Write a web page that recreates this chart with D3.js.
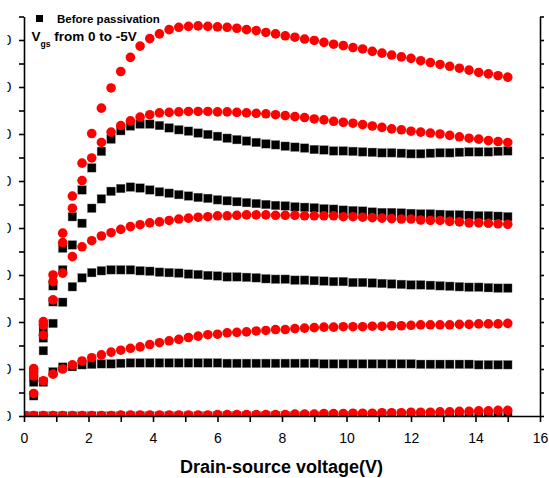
<!DOCTYPE html>
<html>
<head>
<meta charset="utf-8">
<script src="https://cdn.jsdelivr.net/npm/d3@7"></script>
<style>
  body { margin: 0; background: #fff; }
  svg { display: block; font-family: Arial, "Liberation Sans", sans-serif; }
</style>
</head>
<body>
<svg id="svg" width="549" height="478"></svg>
<script>
// drain-source voltage (V), sampled every 0.3 V
let vds = [0, 0.3, 0.6, 0.9, 1.2, 1.5, 1.8, 2.1, 2.4, 2.7,
	3.0, 3.3, 3.6, 3.9, 4.2, 4.5, 4.8, 5.1, 5.4, 5.7,
	6.0, 6.3, 6.6, 6.9, 7.2, 7.5, 7.8, 8.1, 8.4, 8.7,
	9.0, 9.3, 9.6, 9.9, 10.2, 10.5, 10.8, 11.1, 11.4, 11.7,
	12.0, 12.3, 12.6, 12.9, 13.2, 13.5, 13.8, 14.1, 14.4, 14.7,
	15.0];

// red circles
let red1 = [0, 1.01, 2.01, 3.00, 3.89, 4.68, 5.38, 6.01, 6.55, 6.98,
	7.33, 7.63, 7.87, 8.03, 8.13, 8.22, 8.27, 8.29, 8.30, 8.29,
	8.28, 8.27, 8.25, 8.22, 8.20, 8.16, 8.13, 8.09, 8.06, 8.02,
	7.99, 7.95, 7.91, 7.88, 7.84, 7.81, 7.76, 7.72, 7.68, 7.64,
	7.61, 7.56, 7.52, 7.48, 7.44, 7.40, 7.36, 7.31, 7.28, 7.24,
	7.21];
let red2 = [0, 0.94, 1.94, 2.86, 3.69, 4.42, 5.01, 5.49, 5.82, 6.04,
	6.18, 6.28, 6.36, 6.41, 6.45, 6.46, 6.47, 6.48, 6.48, 6.48,
	6.47, 6.47, 6.46, 6.45, 6.44, 6.43, 6.41, 6.39, 6.37, 6.35,
	6.32, 6.30, 6.27, 6.25, 6.23, 6.20, 6.17, 6.14, 6.11, 6.09,
	6.06, 6.04, 6.02, 6.00, 5.97, 5.94, 5.91, 5.89, 5.86, 5.84,
	5.82];
let red3 = [0, 0.85, 1.72, 2.47, 3.04, 3.39, 3.60, 3.73, 3.83, 3.90,
	3.97, 4.03, 4.07, 4.11, 4.13, 4.16, 4.19, 4.21, 4.23, 4.24,
	4.26, 4.26, 4.27, 4.28, 4.28, 4.28, 4.27, 4.27, 4.27, 4.26,
	4.26, 4.26, 4.26, 4.24, 4.24, 4.23, 4.22, 4.21, 4.20, 4.19,
	4.19, 4.17, 4.16, 4.16, 4.14, 4.13, 4.11, 4.11, 4.10, 4.09,
	4.08];
let red4 = [0, 0.48, 0.75, 0.89, 1.00, 1.09, 1.17, 1.24, 1.30, 1.36,
	1.40, 1.44, 1.47, 1.52, 1.56, 1.60, 1.63, 1.67, 1.70, 1.73,
	1.74, 1.77, 1.78, 1.79, 1.81, 1.82, 1.84, 1.84, 1.86, 1.87,
	1.88, 1.89, 1.89, 1.90, 1.90, 1.90, 1.91, 1.91, 1.92, 1.92,
	1.93, 1.94, 1.94, 1.94, 1.94, 1.95, 1.95, 1.96, 1.96, 1.96,
	1.97];
let red5 = [0, 0.01, 0.01, 0.01, 0.01, 0.01, 0.01, 0.01, 0.01, 0.01,
	0.02, 0.02, 0.02, 0.02, 0.02, 0.02, 0.02, 0.02, 0.02, 0.02,
	0.03, 0.03, 0.03, 0.03, 0.03, 0.03, 0.03, 0.03, 0.04, 0.04,
	0.04, 0.05, 0.05, 0.05, 0.06, 0.06, 0.06, 0.07, 0.07, 0.07,
	0.08, 0.08, 0.08, 0.09, 0.09, 0.10, 0.10, 0.11, 0.11, 0.12,
	0.12];

// black squares (before passivation)
let black1 = [0, 0.92, 1.83, 2.77, 3.57, 4.24, 4.81, 5.28, 5.63, 5.89,
	6.07, 6.17, 6.21, 6.21, 6.18, 6.13, 6.09, 6.06, 6.02, 5.99,
	5.95, 5.91, 5.88, 5.85, 5.82, 5.79, 5.77, 5.74, 5.72, 5.70,
	5.67, 5.66, 5.64, 5.64, 5.63, 5.62, 5.61, 5.60, 5.60, 5.59,
	5.58, 5.58, 5.59, 5.60, 5.60, 5.61, 5.62, 5.62, 5.62, 5.63,
	5.64];
let black2 = [0, 0.81, 1.66, 2.43, 3.11, 3.64, 4.10, 4.42, 4.62, 4.78,
	4.84, 4.87, 4.85, 4.81, 4.77, 4.74, 4.71, 4.68, 4.65, 4.63,
	4.60, 4.58, 4.56, 4.54, 4.52, 4.50, 4.48, 4.47, 4.45, 4.44,
	4.43, 4.41, 4.40, 4.38, 4.37, 4.36, 4.34, 4.33, 4.33, 4.32,
	4.31, 4.30, 4.30, 4.29, 4.28, 4.28, 4.27, 4.26, 4.26, 4.25,
	4.24];
let black3 = [0, 0.72, 1.39, 1.97, 2.42, 2.75, 2.94, 3.05, 3.09, 3.11,
	3.11, 3.11, 3.09, 3.08, 3.06, 3.05, 3.04, 3.02, 3.01, 2.99,
	2.98, 2.96, 2.96, 2.95, 2.94, 2.92, 2.91, 2.91, 2.89, 2.89,
	2.88, 2.87, 2.86, 2.86, 2.84, 2.84, 2.83, 2.82, 2.81, 2.80,
	2.79, 2.79, 2.78, 2.77, 2.76, 2.75, 2.74, 2.74, 2.73, 2.72,
	2.72];
let black4 = [0, 0.43, 0.72, 0.94, 1.04, 1.05, 1.09, 1.10, 1.11, 1.11,
	1.12, 1.13, 1.13, 1.13, 1.13, 1.13, 1.13, 1.13, 1.13, 1.13,
	1.13, 1.12, 1.12, 1.12, 1.12, 1.12, 1.12, 1.12, 1.12, 1.12,
	1.12, 1.11, 1.11, 1.11, 1.11, 1.11, 1.11, 1.11, 1.11, 1.11,
	1.11, 1.10, 1.10, 1.10, 1.10, 1.10, 1.10, 1.09, 1.09, 1.09,
	1.09];
let black5 = [0, 0, 0, 0, 0, 0, 0, 0, 0, 0,
	0, 0, 0, 0, 0, 0, 0, 0, 0, 0,
	0, 0, 0, 0, 0, 0, 0, 0, 0, 0,
	0, 0, 0, 0, 0, 0, 0, 0, 0, 0,
	0, 0, 0, 0, 0, 0, 0, 0, 0, 0,
	0];

let xTicks = [0, 1, 2, 3, 4, 5, 6, 7, 8, 9, 10, 11, 12, 13, 14, 15, 16];
let yTicks = [0, 0.5, 1, 1.5, 2, 2.5, 3, 3.5, 4, 4.5, 5, 5.5, 6, 6.5, 7, 7.5, 8, 8.5];

let blackSeries = [black1, black2, black3, black4, black5];
let redSeries = [red1, red2, red3, red4, red5];

let svg = d3.select("#svg");
let plot = {left: 24, right: 540, top: 16.5, bottom: 416};

let xScale = d3.scaleLinear().domain([0, 16]).range([plot.left, plot.right]);
let yScale = d3.scaleLinear().domain([0, 8.5]).range([plot.bottom, plot.top]);

svg.append("clipPath").attr("id", "plotClip")
	.append("rect")
	.attr("x", plot.left).attr("y", 12)
	.attr("width", plot.right - plot.left).attr("height", plot.bottom - 12);

// left labels are cut off in the original, only a sliver of the last digit shows
svg.append("clipPath").attr("id", "labelClip")
	.append("rect")
	.attr("x", 7.5).attr("y", 0).attr("width", 20).attr("height", 478);

let marks = svg.append("g").attr("clip-path", "url(#plotClip)");

let sq = 8.6;
blackSeries.forEach(function(vals) {
	marks.append("g").selectAll("rect").data(vals).enter()
		.append("rect")
		.attr("x", function(d, i) { return xScale(vds[i]) - sq / 2; })
		.attr("y", function(d) { return yScale(d) - sq / 2; })
		.attr("width", sq)
		.attr("height", sq)
		.attr("fill", "#000")
		.attr("stroke", "#888")
		.attr("stroke-width", 0.4);
});

redSeries.forEach(function(vals) {
	marks.append("g").selectAll("circle").data(vals).enter()
		.append("circle")
		.attr("cx", function(d, i) { return xScale(vds[i]); })
		.attr("cy", function(d) { return yScale(d); })
		.attr("r", 4.8)
		.attr("fill", "#ff0000");
});

// axes
let xAxis = svg.append("g")
	.attr("transform", "translate(0," + plot.bottom + ")")
	.call(d3.axisBottom(xScale)
		.tickValues(xTicks)
		.tickSize(6)
		.tickSizeOuter(0)
		.tickFormat(function(d) { return d % 2 === 0 ? d : ""; }));
xAxis.selectAll("text").attr("y", 17).attr("font-size", 14).attr("fill", "#000");

let yAxis = svg.append("g")
	.attr("transform", "translate(" + plot.left + ",0)")
	.call(d3.axisLeft(yScale)
		.tickValues(yTicks)
		.tickSize(5)
		.tickSizeOuter(0)
		.tickFormat(function(d) { return d % 1 === 0 ? d3.format(".1f")(d) : ""; }));
yAxis.selectAll("text")
	.attr("x", 11.2 - plot.left)
	.attr("text-anchor", "end")
	.attr("font-size", 14)
	.attr("fill", "#000")
	.attr("clip-path", null);
yAxis.selectAll(".tick").attr("clip-path", null);
yAxis.selectAll("text").each(function() {
	// move text out of tick group translate so clip works in svg coords
});

let yAxisRight = svg.append("g")
	.attr("transform", "translate(" + plot.right + ",0)")
	.call(d3.axisRight(yScale)
		.tickValues(yTicks)
		.tickSize(4)
		.tickSizeOuter(0)
		.tickFormat(""));

svg.selectAll(".domain, .tick line")
	.attr("stroke", "#000")
	.attr("stroke-width", 1.6);

// put the left tick labels behind a clip so only their right edge is visible
let labelLayer = svg.append("g").attr("clip-path", "url(#labelClip)");
yAxis.selectAll(".tick").each(function(d) {
	let t = d3.select(this).select("text");
	if (t.text() !== "") {
		labelLayer.append("text")
			.attr("x", 11.2)
			.attr("y", yScale(d))
			.attr("dy", "0.36em")
			.attr("text-anchor", "end")
			.attr("font-size", 14)
			.attr("fill", "#000")
			.text(t.text());
	}
	t.remove();
});

// axis title
svg.append("text")
	.attr("x", 281.5)
	.attr("y", 473)
	.attr("text-anchor", "middle")
	.attr("font-size", 18)
	.attr("font-weight", "bold")
	.text("Drain-source voltage(V)");

// legend
svg.append("rect")
	.attr("x", 36).attr("y", 15)
	.attr("width", 7).attr("height", 7)
	.attr("fill", "#000");
svg.append("text")
	.attr("x", 57).attr("y", 23)
	.attr("font-size", 11.5)
	.attr("font-weight", "bold")
	.text("Before passivation");

let vgs = svg.append("text")
	.attr("x", 31.5).attr("y", 41)
	.attr("font-size", 13.5)
	.attr("font-weight", "bold");
vgs.append("tspan").text("V");
vgs.append("tspan").attr("font-size", 8.6).attr("dy", 5.5).text("gs");
vgs.append("tspan").attr("dy", -5.5).text(" from 0 to -5V");
</script>
</body>
</html>
